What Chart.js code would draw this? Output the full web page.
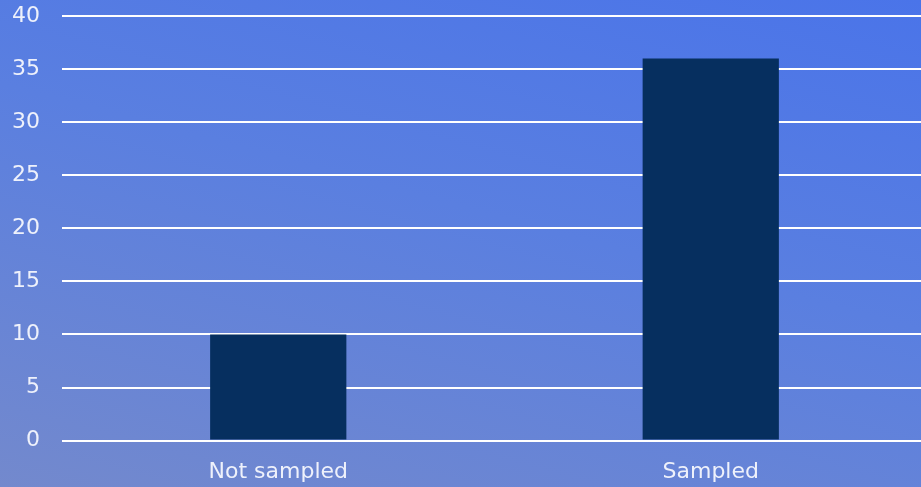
<!DOCTYPE html>
<html>
<head>
<meta charset="utf-8">
<script src="https://cdn.jsdelivr.net/npm/chart.js@4"></script>
<style>
    html, body { margin: 0; padding: 0; }
    #wrap {
        width: 921px;
        height: 487px;
        overflow: hidden;
        background: linear-gradient(195deg, #4a74e9 0%, #5a7fe0 45%, #7389cd 100%);
    }
</style>
</head>
<body>
<div id="wrap"><canvas id="chart" width="927" height="487"></canvas></div>
<script>
const categories = ['Not sampled', 'Sampled'];
const counts = [10, 36];
const yTicks = [0, 5, 10, 15, 20, 25, 30, 35, 40];

const textColor = '#eef1fb';
const fontFamily = '"DejaVu Sans", sans-serif';

const ctx = document.getElementById('chart').getContext('2d');
const chart = new Chart(ctx, {
    type: 'bar',
    data: {
        labels: categories,
        datasets: [{
            data: counts,
            backgroundColor: '#062f5f',
            borderWidth: 0,
            categoryPercentage: 1,
            barPercentage: 0.315
        }]
    },
    options: {
        responsive: false,
        animation: false,
        layout: { padding: { top: 16, left: -10, right: 0, bottom: -8 } },
        plugins: {
            legend: { display: false },
            tooltip: { enabled: false }
        },
        scales: {
            y: {
                min: yTicks[0],
                max: yTicks[yTicks.length - 1],
                afterBuildTicks: (axis) => { axis.ticks = yTicks.map(v => ({ value: v })); },
                afterFit: (axis) => { axis.paddingTop = 0; axis.paddingBottom = 0; },
                border: { display: false },
                grid: { color: '#ffffff', lineWidth: 2, drawTicks: false },
                ticks: {
                    color: textColor,
                    padding: 22,
                    font: { family: fontFamily, size: 22, weight: 'normal' }
                }
            },
            x: {
                border: { display: false },
                grid: { display: false },
                ticks: {
                    color: textColor,
                    padding: 10,
                    font: { family: fontFamily, size: 22, weight: 'normal' }
                }
            }
        }
    }
});
</script>
</body>
</html>
